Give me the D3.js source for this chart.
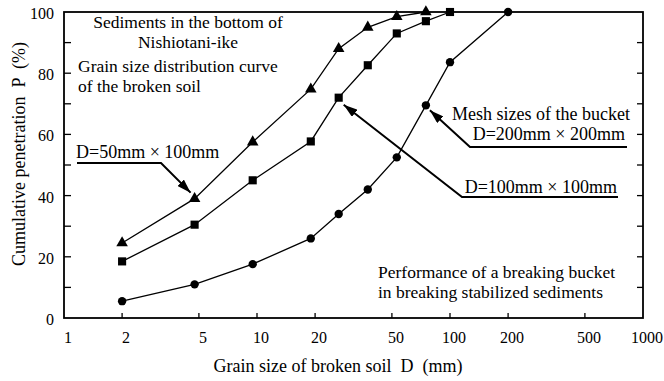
<!DOCTYPE html>
<html>
<head>
<meta charset="utf-8">
<script src="https://cdn.jsdelivr.net/npm/d3@7"></script>
<style>
  body { margin: 0; background: #fff; }
</style>
</head>
<body>
<script>
// Sieve sizes (mm) and cumulative penetration (%) per bucket mesh size
var sizes_50 = [2, 4.75, 9.5, 19, 26.5, 37.5, 53, 75];
var pass_50 = [24.5, 39, 57.5, 74.8, 88, 95, 98.5, 100];

var sizes_100 = [2, 4.75, 9.5, 19, 26.5, 37.5, 53, 75, 100];
var pass_100 = [18.5, 30.5, 45, 57.7, 72, 82.6, 93, 97, 100];

var sizes_200 = [2, 4.75, 9.5, 19, 26.5, 37.5, 53, 75, 100, 200];
var pass_200 = [5.5, 11, 17.6, 26, 34, 42, 52.5, 69.5, 83.6, 100];

var x_ticks = [1, 2, 5, 10, 20, 50, 100, 200, 500, 1000];
var y_ticks = [0, 20, 40, 60, 80, 100];
var y_minor = [10, 20, 30, 40, 50, 60, 70, 80, 90];

var svg_width = 664;
var svg_height = 381;
var font = 'Liberation Serif, Times New Roman, serif';

// plot frame
var plot_left = 64;
var plot_right = 643;
var plot_top = 12;
var plot_bottom = 318;

var x = d3.scaleLog().domain([1, 1000]).range([plot_left, plot_right]);
var y = d3.scaleLinear().domain([0, 100]).range([plot_bottom, plot_top]);

var svg = d3.select('body').append('svg')
  .attr('width', svg_width)
  .attr('height', svg_height);

// arrow head marker
svg.append('defs').append('marker')
  .attr('id', 'arrow')
  .attr('viewBox', '0 0 14 9')
  .attr('refX', 14)
  .attr('refY', 4.5)
  .attr('markerWidth', 14)
  .attr('markerHeight', 9)
  .attr('markerUnits', 'userSpaceOnUse')
  .attr('orient', 'auto')
  .append('path')
  .attr('d', 'M0,0 L14,4.5 L0,9 Z')
  .attr('fill', '#000');

// frame
svg.append('rect')
  .attr('x', plot_left)
  .attr('y', plot_top)
  .attr('width', plot_right - plot_left)
  .attr('height', plot_bottom - plot_top)
  .attr('fill', 'none')
  .attr('stroke', '#000')
  .attr('stroke-width', 1.8);

// inward ticks, left and right
svg.selectAll('line.ytick-left')
  .data(y_minor)
  .enter()
  .append('line')
  .attr('x1', plot_left)
  .attr('x2', plot_left + 7)
  .attr('y1', function(d) { return y(d); })
  .attr('y2', function(d) { return y(d); })
  .attr('stroke', '#000')
  .attr('stroke-width', 1.3);

svg.selectAll('line.ytick-right')
  .data(y_minor)
  .enter()
  .append('line')
  .attr('x1', plot_right - 6)
  .attr('x2', plot_right)
  .attr('y1', function(d) { return y(d); })
  .attr('y2', function(d) { return y(d); })
  .attr('stroke', '#000')
  .attr('stroke-width', 1.3);

// bottom ticks (inward)
svg.selectAll('line.xtick')
  .data(x_ticks.slice(1, -1))
  .enter()
  .append('line')
  .attr('x1', function(d) { return x(d); })
  .attr('x2', function(d) { return x(d); })
  .attr('y1', plot_bottom)
  .attr('y2', plot_bottom - 5)
  .attr('stroke', '#000')
  .attr('stroke-width', 1.3);

// tick labels
svg.selectAll('text.xlab')
  .data(x_ticks)
  .enter()
  .append('text')
  .attr('font-family', font)
  .attr('font-size', 16)
  .attr('x', function(d) { return x(d) + 4; })
  .attr('y', plot_bottom + 25)
  .attr('text-anchor', 'middle')
  .text(function(d) { return d; });

svg.selectAll('text.ylab')
  .data(y_ticks)
  .enter()
  .append('text')
  .attr('font-family', font)
  .attr('font-size', 16)
  .attr('x', plot_left - 10)
  .attr('y', function(d) { return y(d) + 7; })
  .attr('text-anchor', 'end')
  .text(function(d) { return d; });

// axis titles
svg.append('text')
  .attr('font-family', font)
  .attr('font-size', 18)
  .attr('x', 338)
  .attr('y', 372)
  .attr('text-anchor', 'middle')
  .style('white-space', 'pre')
  .text('Grain size of broken soil  D  (mm)');

svg.append('text')
  .attr('font-family', font)
  .attr('font-size', 18)
  .attr('text-anchor', 'middle')
  .style('white-space', 'pre')
  .attr('transform', 'translate(25,' + 154 + ') rotate(-90)')
  .text('Cumulative penetration  P  (%)');

// series
var line = d3.line()
  .x(function(d) { return x(d[0]); })
  .y(function(d) { return y(d[1]); });

var series = [
  { sizes: sizes_50, pass: pass_50, shape: d3.symbolTriangle, size: 58 },
  { sizes: sizes_100, pass: pass_100, shape: d3.symbolSquare, size: 66 },
  { sizes: sizes_200, pass: pass_200, shape: d3.symbolCircle, size: 55 }
];

series.forEach(function(s) {
  var pts = s.sizes.map(function(d, i) { return [d, s.pass[i]]; });
  svg.append('path')
    .datum(pts)
    .attr('d', line)
    .attr('fill', 'none')
    .attr('stroke', '#000')
    .attr('stroke-width', 1.3);
  svg.selectAll(null)
    .data(pts)
    .enter()
    .append('path')
    .attr('d', d3.symbol().type(s.shape).size(s.size))
    .attr('transform', function(d) { return 'translate(' + x(d[0]) + ',' + y(d[1]) + ')'; })
    .attr('fill', '#000');
});

// notes, one text per line
function note(lines, px, py, anchor, gap, size) {
  lines.forEach(function(s, i) {
    svg.append('text')
      .attr('font-family', font)
      .attr('font-size', size)
      .attr('text-anchor', anchor)
      .attr('x', px)
      .attr('y', py + i * gap)
      .text(s);
  });
}
note(['Sediments in the bottom of', 'Nishiotani-ike'], 188, 28, 'middle', 20, 17.5);
note(['Grain size distribution curve', 'of the broken soil'], 78, 72, 'start', 20, 17.5);
note(['Mesh sizes of the bucket'], 630, 120, 'end', 0, 18);
note(['Performance of a breaking bucket', 'in breaking stabilized sediments'], 378, 278, 'start', 20, 17.5);
note(['D=50mm \u00d7 100mm'], 76, 158, 'start', 0, 18);
note(['D=200mm \u00d7 200mm'], 625, 140, 'end', 0, 18);
note(['D=100mm \u00d7 100mm'], 617, 193, 'end', 0, 18);

// leader lines with arrows pointing at the curves
function leader(x1, x2, yy, tx, ty) {
  svg.append('path')
    .attr('d', 'M' + x1 + ',' + yy + ' L' + x2 + ',' + yy + ' L' + tx + ',' + ty)
    .attr('fill', 'none')
    .attr('stroke', '#000')
    .attr('stroke-width', 2)
    .attr('marker-end', 'url(#arrow)');
}
leader(77, 161, 163, x(4.75) - 4, y(39) - 6);
leader(627, 470, 147, x(75) + 4, y(69.5) + 5);
leader(618, 462, 197, x(26.5) + 5, y(72) + 7);
</script>
</body>
</html>
